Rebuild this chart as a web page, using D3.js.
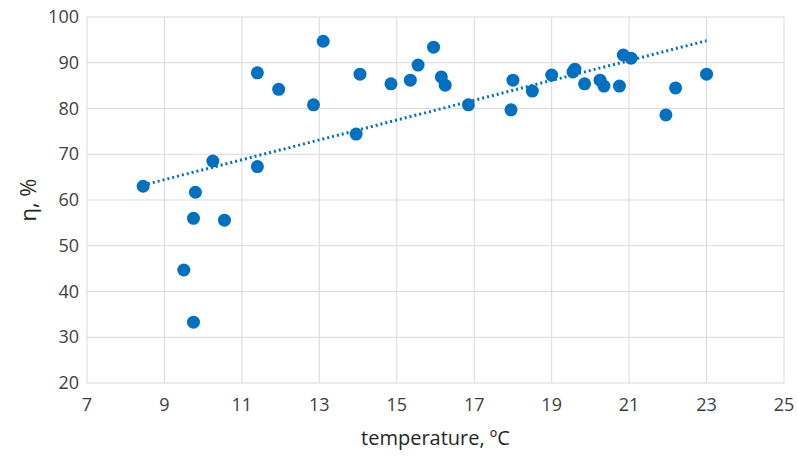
<!DOCTYPE html>
<html><head><meta charset="utf-8">
<script src="https://cdn.jsdelivr.net/npm/d3@7"></script>
<style>body{margin:0;background:#fff}</style></head>
<body><svg id="c" width="798" height="468"></svg>
<script>
const temps=[8.45,9.5,9.75,9.8,9.75,10.25,10.55,11.4,11.4,11.95,12.85,13.1,13.95,14.05,14.85,15.35,15.55,15.95,16.15,16.25,16.85,17.95,18.0,18.5,19.0,19.55,19.6,19.85,20.25,20.35,20.75,20.85,21.05,21.95,22.2,23.0];
const eta=[63,44.7,56,61.7,33.3,68.5,55.6,67.3,87.8,84.2,80.8,94.7,74.4,87.5,85.4,86.2,89.5,93.4,86.9,85.1,80.8,79.7,86.2,83.8,87.3,88,88.6,85.4,86.2,84.9,84.9,91.7,91,78.6,84.5,87.5];
const xTicks=[7,9,11,13,15,17,19,21,23,25];
const yTicks=[20,30,40,50,60,70,80,90,100];
const trendStart=8.45, trendEnd=23;
const svg=d3.select("#c");
const L=87,R=784,T=17,B=383;
const x=d3.scaleLinear().domain([7,25]).range([L,R]);
const y=d3.scaleLinear().domain([20,100]).range([B,T]);
const font="'Open Sans',sans-serif";
svg.append("g").selectAll("line").data(yTicks).join("line")
 .attr("x1",L).attr("x2",R).attr("y1",d=>y(d)).attr("y2",d=>y(d)).attr("stroke","#d9d9d9");
svg.append("g").selectAll("line").data(xTicks).join("line")
 .attr("y1",T).attr("y2",B).attr("x1",d=>x(d)).attr("x2",d=>x(d)).attr("stroke","#d9d9d9");
svg.append("g").selectAll("text").data(yTicks).join("text")
 .attr("x",L-8).attr("y",d=>y(d)+6).attr("text-anchor","end").attr("font-family",font).attr("font-size",18).attr("fill","#404040").text(d=>d);
svg.append("g").selectAll("text").data(xTicks).join("text")
 .attr("x",d=>x(d)).attr("y",B+28).attr("text-anchor","middle").attr("font-family",font).attr("font-size",18).attr("fill","#404040").text(d=>d);
const mx=d3.mean(temps),my=d3.mean(eta);
let sxy=0,sxx=0;temps.forEach((t,i)=>{sxy+=(t-mx)*(eta[i]-my);sxx+=(t-mx)**2;});
const b=sxy/sxx,a=my-b*mx;
svg.append("line").attr("x1",x(trendStart)).attr("x2",x(trendEnd)).attr("y1",y(a+b*trendStart)).attr("y2",y(a+b*trendEnd))
 .attr("stroke","#0070c0").attr("stroke-width",3).attr("stroke-dasharray","2,3");
svg.append("g").selectAll("circle").data(temps).join("circle")
 .attr("cx",d=>x(d)).attr("cy",(d,i)=>y(eta[i])).attr("r",6.5).attr("fill","#0070c0");
svg.append("text").attr("x",(L+R)/2).attr("y",445).attr("text-anchor","middle").attr("font-family",font).attr("font-size",20).attr("fill","#262626").text("temperature, ºC");
svg.append("text").attr("transform",`translate(36,${(T+B)/2}) rotate(-90)`).attr("text-anchor","middle").attr("font-family",font).attr("font-size",22).attr("fill","#262626").text("η, %");
</script></body></html>
